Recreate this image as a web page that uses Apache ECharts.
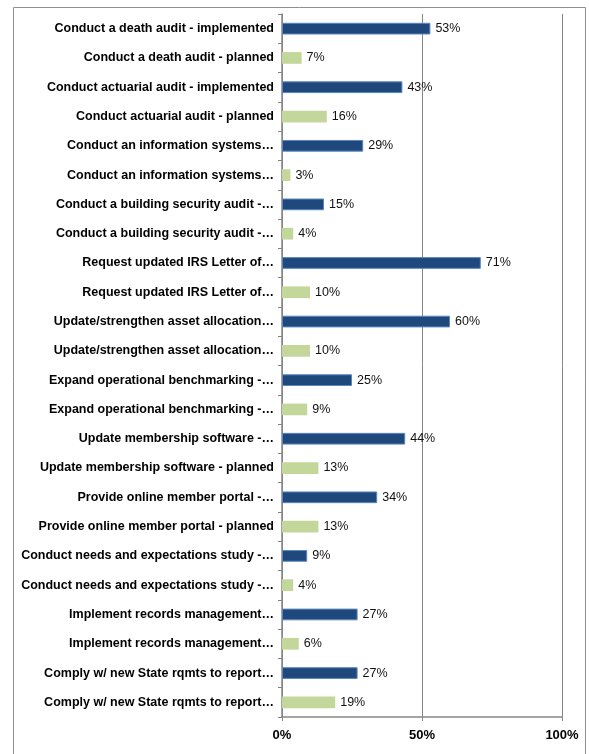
<!DOCTYPE html>
<html>
<head>
<meta charset="utf-8">
<script src="https://cdn.jsdelivr.net/npm/echarts@6/dist/echarts.min.js"></script>
<style>
  html, body { margin: 0; padding: 0; background: #fff; }
  #chart { width: 589px; height: 754px; }
</style>
</head>
<body>
<div id="chart"></div>
<script>
// Initiatives, top to bottom
const categories = [
  'Conduct a death audit - implemented',
  'Conduct a death audit - planned',
  'Conduct actuarial audit - implemented',
  'Conduct actuarial audit - planned',
  'Conduct an information systems…',
  'Conduct an information systems…',
  'Conduct a building security audit -…',
  'Conduct a building security audit -…',
  'Request updated IRS Letter of…',
  'Request updated IRS Letter of…',
  'Update/strengthen asset allocation…',
  'Update/strengthen asset allocation…',
  'Expand operational benchmarking -…',
  'Expand operational benchmarking -…',
  'Update membership software -…',
  'Update membership software - planned',
  'Provide online member portal -…',
  'Provide online member portal - planned',
  'Conduct needs and expectations study -…',
  'Conduct needs and expectations study -…',
  'Implement records management…',
  'Implement records management…',
  'Comply w/ new State rqmts to report…',
  'Comply w/ new State rqmts to report…'
];

// Share of respondents (%)
const values = [53, 7, 43, 16, 29, 3, 15, 4, 71, 10, 60, 10, 25, 9, 44, 13, 34, 13, 9, 4, 27, 6, 27, 19];

// Status of each row: implemented or planned
const status = [
  'implemented', 'planned', 'implemented', 'planned', 'implemented', 'planned',
  'implemented', 'planned', 'implemented', 'planned', 'implemented', 'planned',
  'implemented', 'planned', 'implemented', 'planned', 'implemented', 'planned',
  'implemented', 'planned', 'implemented', 'planned', 'implemented', 'planned'
];

// Axis range and ticks
const axisMin = 0, axisMax = 100, axisStep = 50;

const statusStyle = {
  implemented: { color: '#1F497D', borderColor: '#5B86BD', borderWidth: 1 },
  planned: { color: '#C4D79B', borderWidth: 0 }
};

const chart = echarts.init(document.getElementById('chart'));
const font = 'Liberation Sans, Arial, sans-serif';

chart.setOption({
  animation: false,
  backgroundColor: '#fff',
  graphic: [{
    type: 'rect',
    shape: { x: 13.5, y: 7.5, width: 572, height: 760 },
    style: { fill: 'none', stroke: '#8e8e8e', lineWidth: 1 },
    silent: true,
    z: -1
  }],
  grid: { left: 282, right: 27, top: 14, bottom: 37, containLabel: false },
  xAxis: {
    type: 'value',
    min: axisMin,
    max: axisMax,
    interval: axisStep,
    axisLine: { show: true, lineStyle: { color: '#868686', width: 1.5 } },
    axisTick: { show: true, length: 4, lineStyle: { color: '#868686' } },
    splitLine: { show: true, lineStyle: { color: '#868686', width: 1 } },
    axisLabel: {
      formatter: '{value}%',
      fontFamily: font,
      fontWeight: 'bold',
      fontSize: 13,
      color: '#000',
      margin: 12
    }
  },
  yAxis: {
    type: 'category',
    data: categories,
    inverse: true,
    axisLine: { show: true, lineStyle: { color: '#868686', width: 1.5 } },
    axisTick: { show: true, length: 4, lineStyle: { color: '#868686' } },
    axisLabel: {
      fontFamily: font,
      fontWeight: 'bold',
      fontSize: 12.5,
      color: '#000',
      margin: 8
    }
  },
  series: [{
    type: 'bar',
    barWidth: '40%',
    data: values.map((v, i) => ({ value: v, itemStyle: statusStyle[status[i]] })),
    label: {
      show: true,
      position: 'right',
      distance: 5,
      formatter: '{c}%',
      fontFamily: font,
      fontSize: 12.5,
      color: '#111'
    }
  }]
});
</script>
</body>
</html>
